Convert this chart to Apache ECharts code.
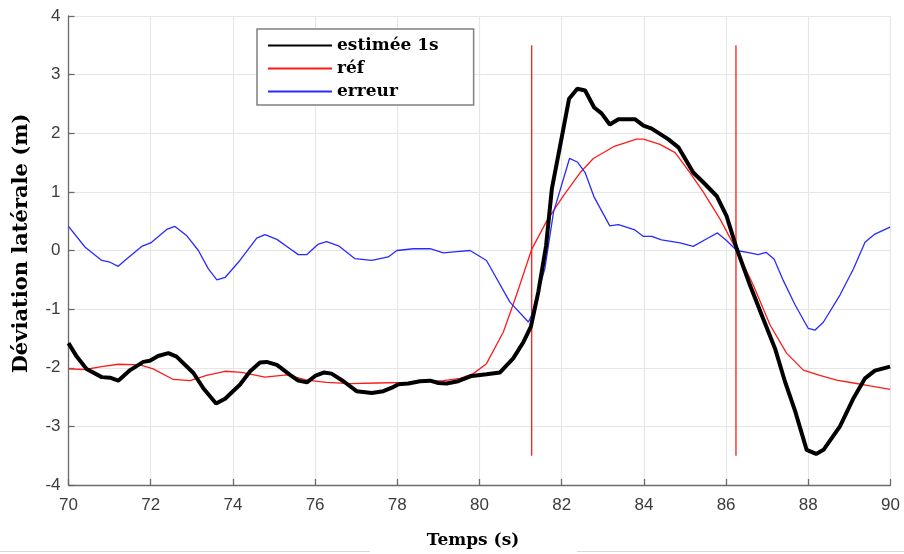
<!DOCTYPE html>
<html>
<head>
<meta charset="utf-8">
<script src="https://cdn.jsdelivr.net/npm/echarts@6/dist/echarts.min.js"></script>
<style>html,body{margin:0;padding:0;background:#fff}#c{width:904px;height:554px}</style>
</head>
<body>
<div id="c"></div>
<script>
// ---- data ----
const estT = [70.0,70.2,70.44,70.81,71.01,71.21,71.5,71.82,71.98,72.18,72.43,72.63,73.04,73.28,73.59,73.81,74.17,74.42,74.66,74.82,75.07,75.39,75.59,75.8,76.0,76.22,76.4,76.69,77.01,77.38,77.66,77.9,78.03,78.27,78.55,78.8,79.0,79.2,79.48,79.81,80.17,80.5,80.82,81.07,81.25,81.43,81.62,81.76,81.96,82.18,82.38,82.57,82.79,82.97,83.17,83.38,83.78,83.99,84.19,84.59,84.84,85.2,85.45,85.77,86.01,86.26,86.58,86.9,87.19,87.43,87.68,87.96,88.19,88.37,88.77,89.1,89.38,89.62,89.99];
const estV = [-1.58,-1.81,-2.02,-2.16,-2.17,-2.22,-2.04,-1.9,-1.88,-1.8,-1.75,-1.81,-2.09,-2.35,-2.61,-2.53,-2.29,-2.06,-1.91,-1.9,-1.95,-2.12,-2.22,-2.25,-2.14,-2.08,-2.1,-2.23,-2.4,-2.43,-2.4,-2.33,-2.28,-2.27,-2.23,-2.22,-2.26,-2.27,-2.23,-2.14,-2.11,-2.08,-1.84,-1.56,-1.3,-0.71,0.08,1.05,1.78,2.59,2.76,2.73,2.44,2.34,2.15,2.24,2.24,2.13,2.08,1.9,1.76,1.33,1.16,0.93,0.59,0.03,-0.59,-1.16,-1.67,-2.23,-2.74,-3.4,-3.47,-3.4,-3.0,-2.52,-2.18,-2.05,-1.98];

const refT = [70.0,70.4,70.81,71.21,71.74,72.06,72.55,72.96,73.36,73.81,74.21,74.78,75.31,75.8,76.28,76.85,77.5,78.31,79.12,79.53,79.85,80.17,80.58,80.9,81.27,81.64,82.04,82.45,82.77,83.26,83.82,83.99,84.39,84.76,85.12,85.45,85.85,86.26,86.66,87.07,87.47,87.88,88.28,88.69,89.1,89.5,89.99];
const refV = [-2.02,-2.03,-1.98,-1.94,-1.95,-2.02,-2.2,-2.22,-2.13,-2.06,-2.08,-2.16,-2.12,-2.21,-2.25,-2.27,-2.26,-2.25,-2.22,-2.18,-2.1,-1.93,-1.39,-0.76,0.02,0.51,0.93,1.33,1.57,1.77,1.9,1.9,1.81,1.67,1.33,0.99,0.54,0.0,-0.59,-1.27,-1.75,-2.04,-2.13,-2.21,-2.26,-2.31,-2.37];

const errT = [70.0,70.4,70.81,71.01,71.21,71.42,71.78,72.0,72.39,72.59,72.88,73.16,73.4,73.61,73.81,74.17,74.58,74.78,75.07,75.39,75.59,75.8,76.08,76.28,76.57,76.97,77.38,77.78,77.99,78.39,78.8,79.12,79.45,79.77,80.17,80.74,81.19,81.27,81.59,81.8,82.19,82.38,82.57,82.79,83.17,83.38,83.78,83.99,84.19,84.43,84.88,85.2,85.53,85.79,86.01,86.26,86.58,86.78,86.97,87.17,87.39,87.68,88.0,88.16,88.37,88.77,89.1,89.38,89.62,89.99];
const errV = [0.41,0.06,-0.17,-0.2,-0.27,-0.14,0.07,0.13,0.36,0.41,0.25,0.0,-0.31,-0.5,-0.46,-0.17,0.21,0.27,0.19,0.03,-0.07,-0.07,0.11,0.15,0.08,-0.14,-0.17,-0.11,0.0,0.03,0.03,-0.04,-0.02,0.0,-0.17,-0.88,-1.22,-1.1,-0.31,0.65,1.57,1.51,1.33,0.91,0.42,0.44,0.35,0.24,0.24,0.18,0.13,0.07,0.2,0.3,0.17,0.0,-0.04,-0.07,-0.03,-0.15,-0.51,-0.93,-1.33,-1.36,-1.22,-0.76,-0.31,0.14,0.28,0.4];

const markerT = [81.27, 86.24];
const markerSpan = [-3.5, 3.5];

const xTicks = [70,72,74,76,78,80,82,84,86,88,90];
const yTicks = [-4,-3,-2,-1,0,1,2,3,4];

const names = ['estimée 1s', 'réf', 'erreur'];

// ---- chart ----
const zip = (t, v) => t.map((x, i) => [x, v[i]]);
const serifBold = { fontFamily: 'DejaVu Serif', fontWeight: 'bold', fontSize: 16, color: '#000' };
const chart = echarts.init(document.getElementById('c'), null, { renderer: 'canvas' });

const series = [
  { name: names[0], type: 'line', data: zip(estT, estV), symbol: 'none', smooth: false,
    lineStyle: { color: '#000', width: 4 }, itemStyle: { color: '#000' }, z: 5 },
  { name: names[1], type: 'line', data: zip(refT, refV), symbol: 'none',
    lineStyle: { color: '#ff1a1a', width: 1.3 }, itemStyle: { color: '#ff1a1a' }, z: 4 },
  { name: names[2], type: 'line', data: zip(errT, errV), symbol: 'none',
    lineStyle: { color: '#2a2aff', width: 1.3 }, itemStyle: { color: '#2a2aff' }, z: 4 }
];
markerT.forEach((t) => {
  series.push({ name: 'marker', type: 'line', data: markerSpan.map(v => [t, v]), symbol: 'none',
    lineStyle: { color: '#ff1a1a', width: 1.3 }, z: 3, silent: true });
});

chart.setOption({
  animation: false,
  backgroundColor: '#fff',
  grid: { left: 68.5, right: 13.5, top: 16, bottom: 67, containLabel: false },
  legend: {
    data: names,
    orient: 'vertical',
    left: 257, top: 29,
    padding: [8, 35, 5, 10],
    itemWidth: 64, itemHeight: 14, itemGap: 6,
    borderColor: '#808080', borderWidth: 1.5, backgroundColor: '#fff',
    itemStyle: { color: 'rgba(0,0,0,0)', borderWidth: 0, opacity: 0 },
    textStyle: Object.assign({}, serifBold, { fontSize: 17 })
  },
  xAxis: {
    type: 'value', min: 70, max: 90, interval: 2,
    name: 'Temps (s)', nameLocation: 'middle', nameGap: 47,
    nameTextStyle: Object.assign({}, serifBold, { fontSize: 17, padding: [0, 13, 0, 0] }),
    axisLine: { show: true, onZero: false, lineStyle: { color: '#6b6b6b', width: 1.3 } },
    axisTick: { show: true, inside: true, length: 6, lineStyle: { color: '#6b6b6b', width: 1.3 } },
    axisLabel: { fontFamily: 'Liberation Sans', fontSize: 17, color: '#3c3c3c', margin: 12,
      formatter: v => xTicks.includes(v) ? String(v) : '' },
    splitLine: { show: true, lineStyle: { color: '#e6e6e6', width: 1.2 } }
  },
  yAxis: {
    type: 'value', min: -4, max: 4, interval: 1,
    name: 'Déviation latérale (m)', nameLocation: 'middle', nameGap: 36,
    nameTextStyle: Object.assign({}, serifBold, { fontSize: 21, padding: [0, 0, 0, 14] }),
    axisLine: { show: true, onZero: false, lineStyle: { color: '#6b6b6b', width: 1.3 } },
    axisTick: { show: true, inside: true, length: 6, lineStyle: { color: '#6b6b6b', width: 1.3 } },
    axisLabel: { fontFamily: 'Liberation Sans', fontSize: 17, color: '#3c3c3c', margin: 8,
      formatter: v => yTicks.includes(v) ? String(v) : '' },
    splitLine: { show: true, lineStyle: { color: '#e6e6e6', width: 1.2 } }
  },
  graphic: [
    { type: 'line', shape: { x1: 0, y1: 551.5, x2: 370, y2: 551.5 }, style: { stroke: '#d8d8d8', lineWidth: 1 }, silent: true },
    { type: 'line', shape: { x1: 577, y1: 551.5, x2: 904, y2: 551.5 }, style: { stroke: '#d8d8d8', lineWidth: 1 }, silent: true }
  ],
  series: series
});
</script>
</body>
</html>
